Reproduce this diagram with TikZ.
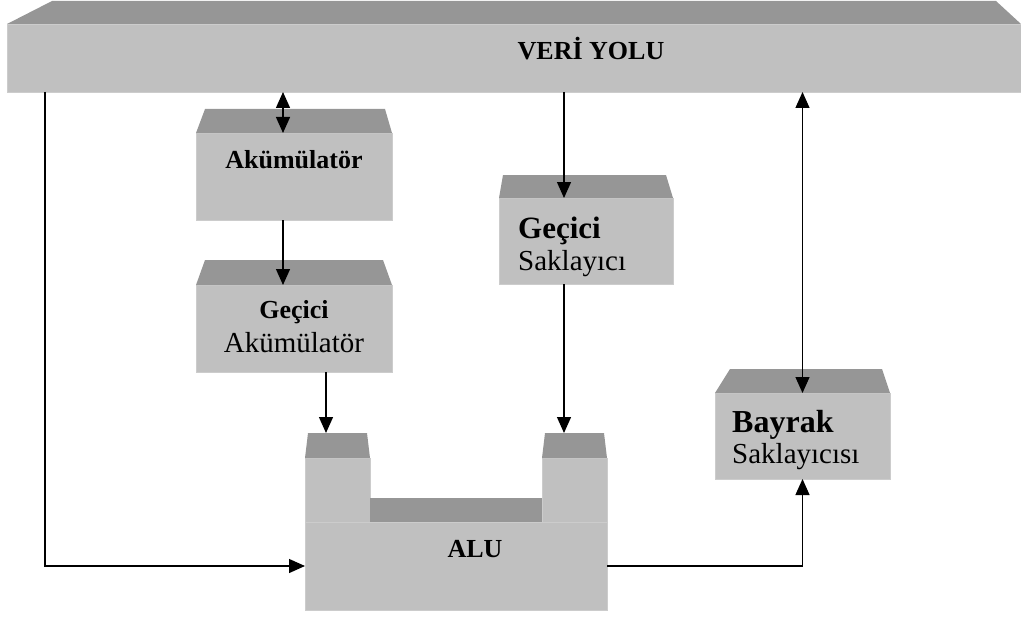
\documentclass[tikz,border=0pt]{standalone}
\usepackage{fontspec}
\setmainfont{Liberation Serif}
\usepackage{tikz}
\usetikzlibrary{arrows.meta}
\definecolor{boxfront}{HTML}{C0C0C0}
\definecolor{boxtop}{HTML}{969696}

\begin{document}
\begin{tikzpicture}[x=1pt, y=-1pt, >={Triangle[length=16pt,width=14pt]},
    front/.style={fill=boxfront, draw=black!20, line width=0.6pt, inner sep=0pt, outer sep=0pt},
    topface/.style={fill=boxtop},
    link/.style={line width=1.3pt, draw=black},
    lbl/.style={inner sep=0pt, text=black}]
  \useasboundingbox (0,0) rectangle (1021,618);

  % Bus
  \node[front, minimum width=1014, minimum height=68] (bus) at (514,58) {};
  \fill[topface] (bus.north west) -- ++(45,-23) -- ++(944,0) -- (bus.north east) -- cycle;

  % Block Nodes
  \node[front, minimum width=196, minimum height=87] (acc) at (294,176.5) {};
  \fill[topface] (acc.north west) -- ++(9,-24) -- ++(180,0) -- (acc.north east) -- cycle;
  \node[front, minimum width=196, minimum height=87] (tacc) at (294,328.5) {};
  \fill[topface] (tacc.north west) -- ++(9,-25) -- ++(178,0) -- (tacc.north east) -- cycle;
  \node[front, minimum width=174, minimum height=86] (tsak) at (586,241) {};
  \fill[topface] (tsak.north west) -- ++(4,-23) -- ++(163,0) -- (tsak.north east) -- cycle;
  \node[front, minimum width=175, minimum height=86] (flag) at (802.5,436) {};
  \fill[topface] (flag.north west) -- ++(15,-24) -- ++(152,0) -- (flag.north east) -- cycle;

  % ALU
  \node[front, minimum width=302, minimum height=88] (alu) at (456,566) {};
  \node[front, minimum width=65, minimum height=64] (alul) at (337.5,490) {};
  \node[front, minimum width=65, minimum height=64] (alur) at (574.5,490) {};
  \fill[topface] (alul.north west) -- ++(3,-25) coordinate (alul-top) -- ++(59,0) -- (alul.north east) -- cycle;
  \fill[topface] (alur.north west) -- ++(3,-25) coordinate (alur-top) -- ++(59,0) -- (alur.north east) -- cycle;
  \fill[topface] (alul.south east) rectangle ([yshift=24pt]alur.south west);

  % Labels
  \node[lbl, font=\fontsize{26}{30}\selectfont\bfseries, anchor=base] (bus-label) at (591,60) {VERİ YOLU};
  \node[lbl, font=\fontsize{26}{30}\selectfont\bfseries, anchor=base] (acc-label) at (294,168) {Akümülatör};
  \node[lbl, font=\fontsize{29}{34}\selectfont, align=center, anchor=base] (tacc-label) at (294,352) {{\fontsize{26}{34}\selectfont\bfseries Geçici}\\Akümülatör};
  \node[lbl, font=\fontsize{29}{32}\selectfont, align=left, anchor=base west] (tsak-label) at (518,270) {{\fontsize{31}{32}\selectfont\bfseries Geçici}\\Saklayıcı};
  \node[lbl, font=\fontsize{29}{31}\selectfont, align=left, anchor=base west] (flag-label) at (732,463) {{\fontsize{32}{31}\selectfont\bfseries Bayrak}\\Saklayıcısı};
  \node[lbl, font=\fontsize{26}{30}\selectfont\bfseries, anchor=base] (alu-label) at (475,557) {ALU};

  % Connectors
  \coordinate (xleft) at (45,0);
  \coordinate (xacc) at (283,0);
  \coordinate (xtacc) at (326,0);
  \coordinate (xtsak) at (564,0);
  \draw[link, <->] (bus.south -| xacc) -- (acc.north -| xacc);
  \draw[link, ->] (acc.south -| xacc) -- (tacc.north -| xacc);
  \draw[link, ->] (tacc.south -| xtacc) -- (alul-top -| xtacc);
  \draw[link, ->] (bus.south -| xtsak) -- (tsak.north -| xtsak);
  \draw[link, ->] (tsak.south -| xtsak) -- (alur-top -| xtsak);
  \draw[link, <->] (bus.south -| flag.north) -- (flag.north);
  \draw[link, ->] (bus.south -| xleft) |- (alu.west);
  \draw[link, ->] (alu.east) -| (flag.south);
\end{tikzpicture}
\end{document}
